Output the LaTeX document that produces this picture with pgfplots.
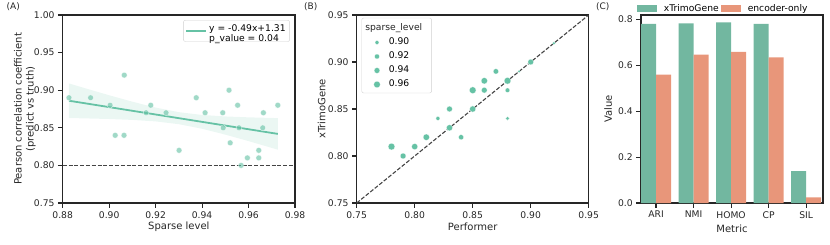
\documentclass[border=0pt]{standalone}
\usepackage{pgfplots}
\pgfplotsset{compat=1.18}
\usepackage{fontspec}
\setmainfont{DejaVu Sans}
\definecolor{sgreen}{HTML}{66C2A5}
\definecolor{bgreen}{HTML}{72B7A0}
\definecolor{borange}{HTML}{E8967A}
\definecolor{dline}{HTML}{444444}
\definecolor{spine}{HTML}{262626}
\pgfplotsset{
  myaxis/.style={
    scale only axis,
    axis line style={spine, line width=1.1pt},
    tick align=outside,
    major tick length=4.7pt,
    every tick/.style={spine, line width=1.1pt},
    tick pos=left,
    tick label style={font=\fontsize{9.2}{11}\selectfont, text=spine},
    label style={font=\fontsize{10}{12}\selectfont, text=spine},
    /pgf/number format/assume math mode=true,
    minor tick num=0,
  },
  twodec/.style={/pgf/number format/.cd, fixed, fixed zerofill, precision=2},
  onedec/.style={/pgf/number format/.cd, fixed, fixed zerofill, precision=1},
}
\pgfplotstableread{
sp val
0.8827 0.89
0.8920 0.89
0.9004 0.88
0.9026 0.84
0.9064 0.84
0.9065 0.92
0.9159 0.87
0.9179 0.88
0.9245 0.87
0.9301 0.82
0.9375 0.89
0.9413 0.87
0.9489 0.87
0.9491 0.85
0.9516 0.90
0.9521 0.83
0.9553 0.88
0.9559 0.85
0.9568 0.80
0.9595 0.81
0.9644 0.82
0.9644 0.81
0.9661 0.85
0.9664 0.87
0.9726 0.88
}\sparsedata
\pgfplotstableread{
p t r
0.78 0.81 3.4
0.79 0.80 2.9
0.80 0.81 3.1
0.81 0.82 3.2
0.82 0.84 2.0
0.83 0.85 2.9
0.83 0.83 3.1
0.84 0.82 2.6
0.85 0.87 3.4
0.85 0.85 3.1
0.86 0.88 3.2
0.86 0.87 2.9
0.87 0.89 2.7
0.88 0.88 3.4
0.88 0.87 2.3
0.88 0.84 1.9
0.89 0.89 1.4
0.90 0.90 2.9
0.92 0.92 1.6
}\perfdata
\begin{document}
\begin{tikzpicture}
\path[use as bounding box] (0pt,0pt) rectangle (830pt,244pt);
\node[anchor=west, font=\fontsize{9}{10}\selectfont, text=spine, inner sep=0pt] at (6.5pt,237pt) {(A)};
\node[anchor=west, font=\fontsize{9}{10}\selectfont, text=spine, inner sep=0pt] at (304pt,237pt) {(B)};
\node[anchor=west, font=\fontsize{9}{10}\selectfont, text=spine, inner sep=0pt] at (596pt,237pt) {(C)};

% ---------------- Panel A
\begin{axis}[myaxis, at={(62.7pt,41pt)}, anchor=south west, width=232.3pt, height=188pt,
  xmin=0.88, xmax=0.98, ymin=0.75, ymax=1.0,
  xtick={0.88,0.90,0.92,0.94,0.96,0.98}, ytick={0.75,0.80,0.85,0.90,0.95,1.00},
  xticklabel style={twodec}, yticklabel style={twodec},
  xlabel={Sparse level},
  xlabel style={at={(axis description cs:0.5,-0.127)}, anchor=center},
  ylabel={Pearson correlation coefficient\\(predict vs truth)},
  ylabel style={align=center, at={(axis description cs:-0.163,0.5)}, anchor=center},
  legend style={at={(axis description cs:0.978,0.973)}, anchor=north east,
    draw=black!18, rounded corners=2pt, fill=white,
    font=\fontsize{9.2}{10.5}\selectfont, inner xsep=2pt, inner ysep=1.5pt},
  legend image code/.code={\draw[#1] (0pt,0pt) -- (20pt,0pt);},
  ]
\addplot[fill=sgreen, fill opacity=0.13, draw=none, forget plot] coordinates {
(0.8827,0.9090) (0.89,0.9023) (0.90,0.8933) (0.91,0.8847) (0.92,0.8769)
(0.93,0.8708) (0.94,0.8671) (0.95,0.8651) (0.96,0.8639) (0.9726,0.8629)
(0.9726,0.8209) (0.96,0.8323) (0.95,0.8409) (0.94,0.8487) (0.93,0.8548)
(0.92,0.8585) (0.91,0.8605) (0.90,0.8617) (0.89,0.8625) (0.8827,0.8630)} -- cycle;
\addplot[only marks, mark=*, mark size=2.9pt, forget plot,
  mark options={fill=sgreen, fill opacity=0.62, draw=white, draw opacity=0.7, line width=0.4pt}]
  table[x=sp, y=val] {\sparsedata};
\addplot[dline, line width=1.1pt, dash pattern=on 4pt off 1.8pt, forget plot]
  coordinates {(0.88,0.80) (0.98,0.80)};
\addplot[sgreen, line width=1.8pt] coordinates {(0.8827,0.8860) (0.9726,0.8419)};
\addlegendentry{\begin{tabular}{@{}l@{}}y = -0.49x+1.31\\p\_value = 0.04\end{tabular}}
\end{axis}

% ---------------- Panel B
\begin{axis}[myaxis, at={(356.7pt,41pt)}, anchor=south west, width=232pt, height=188pt,
  xmin=0.75, xmax=0.95, ymin=0.75, ymax=0.95,
  xtick={0.75,0.80,0.85,0.90,0.95}, ytick={0.75,0.80,0.85,0.90,0.95},
  xticklabel style={twodec}, yticklabel style={twodec},
  xlabel={Performer},
  xlabel style={at={(axis description cs:0.5,-0.127)}, anchor=center},
  ylabel={xTrimoGene},
  ylabel style={at={(axis description cs:-0.151,0.5)}, anchor=center},
  legend style={at={(axis description cs:0.0724,0.742)}, anchor=west,
    draw=none, fill=none, inner sep=0pt,
    nodes={inner sep=0pt, text height=6.8pt, text depth=2.2pt},
    font=\fontsize{9.2}{11}\selectfont, row sep=5pt},
  legend cell align=left,
  ]
\addplot[dline, line width=1.1pt, dash pattern=on 4pt off 1.8pt, forget plot]
  coordinates {(0.75,0.75) (0.95,0.95)};
\addplot[scatter, only marks, mark=*, forget plot,
  scatter/use mapped color={draw=white, fill=sgreen},
  visualization depends on={\thisrow{r} \as \rad},
  scatter/@pre marker code/.append style={/tikz/mark size=\rad pt},
  mark options={line width=0.2pt}]
  table[x=p, y=t] {\perfdata};
\draw[black!18, fill=white, rounded corners=2pt]
  (axis description cs:0.0216,0.984) rectangle (axis description cs:0.323,0.585);
\node[anchor=base west, inner sep=0pt, font=\fontsize{9.2}{11}\selectfont, text=spine]
  at (axis description cs:0.036,0.918) {sparse\_level};
\addlegendimage{only marks, mark=*, mark size=2.0pt, mark options={fill=sgreen, draw=white, line width=0.2pt}}
\addlegendentry{\hspace{8.5pt}0.90}
\addlegendimage{only marks, mark=*, mark size=2.5pt, mark options={fill=sgreen, draw=white, line width=0.2pt}}
\addlegendentry{\hspace{8.5pt}0.92}
\addlegendimage{only marks, mark=*, mark size=2.9pt, mark options={fill=sgreen, draw=white, line width=0.2pt}}
\addlegendentry{\hspace{8.5pt}0.94}
\addlegendimage{only marks, mark=*, mark size=3.3pt, mark options={fill=sgreen, draw=white, line width=0.2pt}}
\addlegendentry{\hspace{8.5pt}0.96}
\end{axis}

% ---------------- Panel C
\begin{axis}[myaxis, at={(641pt,41pt)}, anchor=south west, width=182pt, height=188pt,
  xmin=-0.4, xmax=4.45, ymin=0, ymax=0.819,
  xtick={0,1,2,3,4}, xticklabels={ARI,NMI,HOMO,CP,SIL},
  ytick={0,0.2,0.4,0.6,0.8}, yticklabel style={onedec},
  xlabel={Metric},
  xlabel style={at={(axis description cs:0.5,-0.135)}, anchor=center},
  ylabel={Value},
  ylabel style={at={(axis description cs:-0.181,0.5)}, anchor=center},
  ybar, bar width=0.4,
  legend style={at={(axis description cs:-0.024,1.0)}, anchor=south west,
    draw=none, fill=none, font=\fontsize{9.2}{11}\selectfont,
    legend columns=2, inner sep=0pt},
  legend image code/.code={\fill[#1] (0pt,-3.5pt) rectangle (20pt,3.5pt);},
  ]
\addplot[fill=bgreen, draw=none, bar shift=-0.2] coordinates {(0,0.780) (1,0.783) (2,0.787) (3,0.780) (4,0.139)};
\addlegendentry{\hspace{5pt}xTrimoGene\hspace{19pt}}
\addplot[fill=borange, draw=none, bar shift=0.2] coordinates {(0,0.559) (1,0.646) (2,0.658) (3,0.634) (4,0.025)};
\addlegendentry{\hspace{5pt}encoder-only}
\end{axis}
\end{tikzpicture}
\end{document}
